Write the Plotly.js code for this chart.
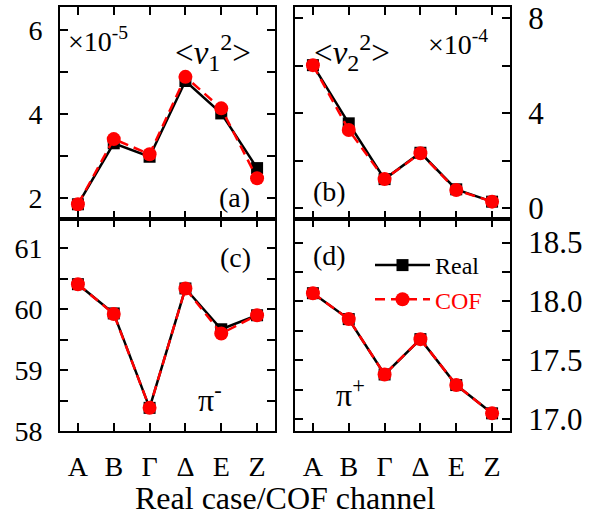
<!DOCTYPE html>
<html>
<head>
<meta charset="utf-8">
<script src="https://cdn.plot.ly/plotly-3.0.1.min.js"></script>
<style>html,body{margin:0;padding:0;background:#fff;}#chart{width:595px;height:518px;}</style>
</head>
<body>
<div id="chart"></div>
<script>
// ---- data ----
const channels = ["Α", "Β", "Γ", "Δ", "Ε", "Ζ"];
const xIndex = [0, 1, 2, 3, 4, 5];

// (a) <v1^2>, units of 1e-5
const v1Real = [1.86, 3.31, 2.99, 4.79, 4.02, 2.72];
const v1COF  = [1.86, 3.41, 3.05, 4.89, 4.14, 2.48];
// (b) <v2^2>, units of 1e-4
const v2Real = [6.03, 3.58, 1.23, 2.34, 0.80, 0.28];
const v2COF  = [6.03, 3.30, 1.23, 2.32, 0.77, 0.28];
// (c) pi-
const piMinusReal = [60.41, 59.93, 58.38, 60.34, 59.67, 59.90];
const piMinusCOF  = [60.41, 59.92, 58.38, 60.34, 59.60, 59.90];
// (d) pi+
const piPlusReal = [18.07, 17.85, 17.38, 17.68, 17.29, 17.05];
const piPlusCOF  = [18.07, 17.85, 17.38, 17.68, 17.29, 17.05];

// ---- helpers ----
const W = 595, H = 518;
const px = v => v / W;
const py = v => 1 - v / H;
const FONT = "Liberation Serif";

const realStyle = {
  mode: "lines+markers",
  line: {color: "#000000", width: 2.5},
  marker: {symbol: "square", size: 12, color: "#000000"}
};
const cofStyle = {
  mode: "lines+markers",
  line: {color: "#ff0000", width: 2.5, dash: "10px,6px"},
  marker: {symbol: "circle", size: 14, color: "#ff0000"}
};

function pair(real, cof, xa, ya, legend) {
  return [
    Object.assign({x: xIndex, y: real, xaxis: xa, yaxis: ya, name: "Real",
      showlegend: legend, legendgroup: "real"}, realStyle),
    Object.assign({x: xIndex, y: cof, xaxis: xa, yaxis: ya,
      name: '<span style="color:#ff0000">COF</span>',
      showlegend: legend, legendgroup: "cof"}, cofStyle)
  ];
}

const data = [].concat(
  pair(v1Real, v1COF, "x", "y", false),
  pair(v2Real, v2COF, "x2", "y2", false),
  pair(piMinusReal, piMinusCOF, "x3", "y3", false),
  pair(piPlusReal, piPlusCOF, "x4", "y4", true)
);

const commonAxis = {
  showline: true, linecolor: "#000", linewidth: 2, mirror: "ticks",
  ticks: "inside", ticklen: 8, tickwidth: 2, tickcolor: "#000",
  showgrid: false, zeroline: false, fixedrange: true
};
function xAxis(domain, anchor, labels) {
  return Object.assign({}, commonAxis, {
    domain: domain, anchor: anchor, range: [-0.5, 5.5],
    tickmode: "array", tickvals: xIndex, ticktext: channels,
    showticklabels: labels, ticklabelstandoff: 9,
    tickfont: {family: FONT, size: 28, color: "#000"}
  });
}
function yAxis(domain, anchor, side, range, tick0, dtick, minor, fs, fmt) {
  return Object.assign({}, commonAxis, {
    domain: domain, anchor: anchor, side: side, range: range,
    tickmode: "linear", tick0: tick0, dtick: dtick, tickformat: fmt || "",
    minor: {dtick: minor, tick0: tick0, ticks: "inside", ticklen: 8, tickwidth: 2, tickcolor: "#000", showgrid: false},
    ticklabelstandoff: 10,
    tickfont: {family: FONT, size: fs, color: "#000"}
  });
}

const xL = [px(60), px(275)], xR = [px(295), px(510)];
const yT = [py(219), py(7)], yB = [py(431), py(219)];

const ann = (text, x, y, xa, ya, size, extra) => Object.assign({
  text: text, x: px(x), y: py(y), xref: "paper", yref: "paper",
  xanchor: xa, yanchor: ya, showarrow: false,
  font: {family: FONT, size: size, color: "#000"}
}, extra || {});

const subSup = (sub, sup) =>
  '&lt;<i>v</i><sub><span style="font-size:24px">' + sub + '</span></sub>' +
  '<sup><span style="font-size:24px">' + sup + '</span></sup>&gt;';

const layout = {
  width: W, height: H,
  margin: {l: 0, r: 0, t: 0, b: 0},
  paper_bgcolor: "#fff", plot_bgcolor: "#fff",
  font: {family: FONT, color: "#000"},
  xaxis: xAxis(xL, "y", false),
  yaxis: yAxis(yT, "x", "left", [1.51, 6.55], 2, 2, 1, 28),
  xaxis2: xAxis(xR, "y2", false),
  yaxis2: yAxis(yT, "x2", "right", [-0.45, 8.48], 0, 4, 2, 31),
  xaxis3: xAxis(xL, "y3", true),
  yaxis3: yAxis(yB, "x3", "left", [58, 61.48], 58, 1, 0.5, 28),
  xaxis4: xAxis(xR, "y4", true),
  yaxis4: yAxis(yB, "x4", "right", [16.9, 18.7], 17, 0.5, 0.25, 31, ".1f"),
  showlegend: true,
  legend: {
    x: px(370), y: py(243), xanchor: "left", yanchor: "top",
    bgcolor: "rgba(0,0,0,0)", borderwidth: 0,
    font: {family: FONT, size: 24, color: "#000"},
    tracegroupgap: 0, itemwidth: 55
  },
  annotations: [
    ann("×10<sup>-5</sup>", 66, 40, "left", "middle", 28),
    ann(subSup("1", "2"), 213, 52, "center", "middle", 33),
    ann("(a)", 234, 197, "center", "middle", 28),
    ann(subSup("2", "2"), 352, 52, "center", "middle", 33),
    ann("×10<sup>-4</sup>", 426, 43, "left", "middle", 28),
    ann("(b)", 329, 192, "center", "middle", 28),
    ann("(c)", 235, 257, "center", "middle", 28),
    ann("π<sup>-</sup>", 196, 398, "left", "middle", 32),
    ann("(d)", 329, 255, "center", "middle", 28),
    ann("π<sup>+</sup>", 334, 393, "left", "middle", 32),
    ann("Real case/COF channel", 285, 498, "center", "middle", 32)
  ]
};

Plotly.newPlot("chart", data, layout, {displayModeBar: false, staticPlot: true});
</script>
</body>
</html>
